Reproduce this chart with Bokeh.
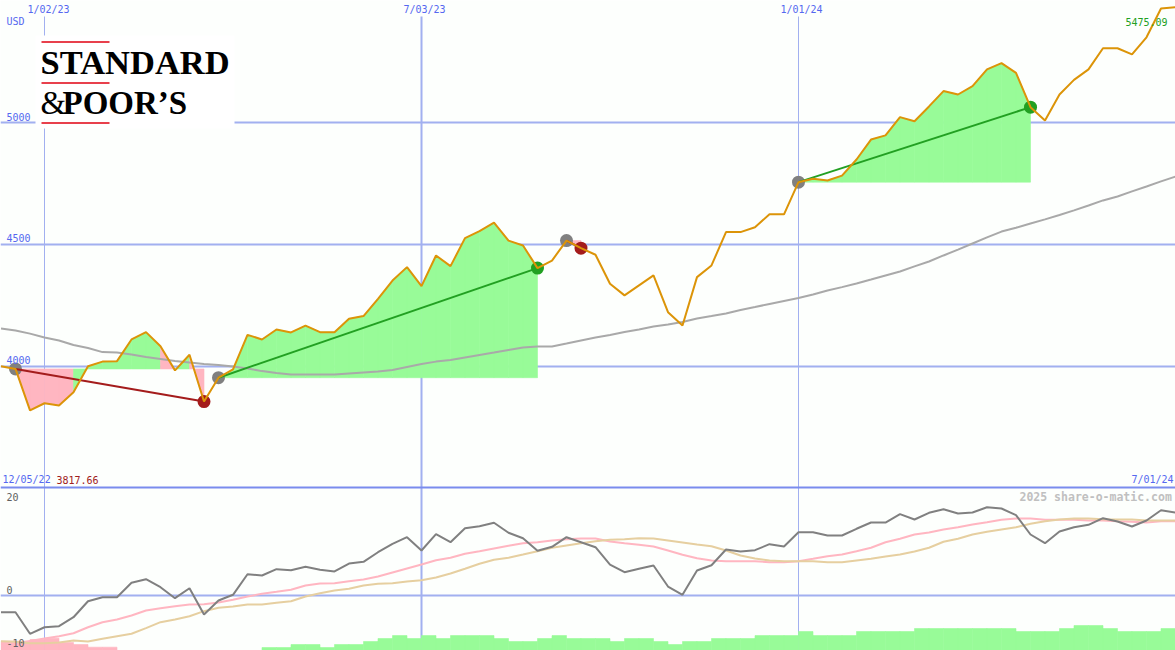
import pandas as pd
from bokeh.core.properties import value
from bokeh.embed import file_html
from bokeh.models import Range1d
from bokeh.plotting import figure
from bokeh.resources import INLINE

# Weekly closes, 12/12/22 through 7/01/24
price = [3999, 3988, 3818, 3847, 3838, 3892, 3999, 4018, 4020, 4109, 4139, 4081, 3982, 4046, 3854, 3952,
         3986, 4128, 4109, 4150, 4138, 4166, 4139, 4139, 4194, 4205, 4276, 4351, 4406, 4328, 4454, 4410,
         4525, 4554, 4589, 4515, 4495, 4402, 4433, 4515, 4484, 4457, 4338, 4290, 4331, 4372, 4221, 4166,
         4365, 4413, 4550, 4550, 4570, 4623, 4623, 4755, 4769, 4762, 4782, 4848, 4930, 4947, 5022, 5005,
         5066, 5129, 5115, 5149, 5218, 5244, 5204, 5063, 5008, 5115, 5175, 5218, 5305, 5305, 5280, 5350,
         5468, 5473]
moving_avg = [4154, 4146, 4133, 4117, 4105, 4086, 4074, 4057, 4055, 4047, 4037, 4029, 4021, 4014, 4008, 4004,
              3998, 3990, 3979, 3971, 3965, 3965, 3965, 3965, 3969, 3973, 3977, 3984, 3996, 4008, 4018, 4025,
              4035, 4045, 4055, 4066, 4076, 4080, 4080, 4092, 4105, 4117, 4127, 4140, 4150, 4162, 4170, 4181,
              4195, 4205, 4216, 4230, 4242, 4255, 4267, 4279, 4294, 4310, 4324, 4339, 4355, 4372, 4388, 4409,
              4429, 4454, 4478, 4503, 4528, 4552, 4568, 4585, 4602, 4620, 4639, 4659, 4680, 4696, 4717, 4737,
              4758, 4778]
momentum = [-3.12, -3.12, -7.16, -5.93, -5.74, -4.06, -1.07, -0.32, -0.32, 2.37, 3.05, 1.55, -0.50, 1.36, -3.55,
            -0.93, 0.13, 3.98, 3.74, 4.92, 4.73, 5.36, 4.80, 4.49, 5.98, 6.30, 8.09, 9.66, 10.90, 8.41, 11.46,
            9.96, 12.58, 12.95, 13.59, 11.72, 10.71, 8.36, 9.10, 10.90, 9.96, 9.03, 5.79, 4.36, 4.99, 5.61, 1.68,
            0.13, 4.67, 5.66, 8.60, 8.22, 8.47, 9.59, 9.16, 11.83, 11.83, 11.21, 11.21, 12.47, 13.64, 13.64,
            15.20, 14.21, 15.46, 16.13, 15.33, 15.51, 16.50, 16.26, 15.01, 11.40, 9.78, 11.96, 12.77, 13.21,
            14.45, 13.83, 12.90, 14.02, 15.94, 15.51]
signal_fast = [-9.35, -8.97, -8.50, -8.04, -7.61, -7.05, -5.93, -4.99, -4.49, -3.74, -2.80, -2.37, -2.00, -1.68,
               -1.63, -1.31, -0.80, -0.19, 0.32, 0.69, 1.07, 1.87, 2.24, 2.30, 2.67, 2.99, 3.55, 4.30, 5.05, 5.79,
               6.60, 7.05, 7.79, 8.28, 8.79, 9.29, 9.78, 9.96, 10.28, 10.52, 10.65, 10.65, 10.09, 9.78, 9.48, 9.16,
               8.41, 7.61, 6.97, 6.54, 6.41, 6.41, 6.41, 6.22, 6.22, 6.41, 6.86, 7.35, 7.66, 8.28, 8.92, 9.96,
               10.60, 11.40, 11.78, 12.34, 12.77, 13.27, 13.70, 14.15, 14.39, 14.39, 14.15, 14.15, 14.15, 14.02,
               14.02, 13.89, 13.78, 13.64, 13.89, 13.89]
signal_slow = [-8.54, -8.65, -8.92, -8.92, -8.79, -8.41, -8.60, -8.09, -7.61, -7.16, -6.11, -4.99, -4.49, -3.87,
               -2.93, -2.30, -2.06, -1.68, -1.68, -1.36, -1.07, -0.19, 0.43, 0.93, 1.25, 1.87, 2.19, 2.30, 2.62,
               2.86, 3.36, 4.11, 4.99, 5.93, 6.67, 7.05, 7.66, 8.28, 8.92, 9.35, 9.78, 10.15, 10.41, 10.52, 10.71,
               10.65, 10.28, 9.91, 9.53, 9.21, 8.41, 7.48, 6.92, 6.54, 6.41, 6.41, 6.41, 6.22, 6.22, 6.54, 6.86,
               7.29, 7.66, 8.22, 8.92, 10.04, 10.60, 11.40, 11.91, 12.34, 12.77, 13.40, 13.89, 14.21, 14.39, 14.39,
               14.26, 14.21, 14.21, 14.02, 14.02, 14.02]
# Histogram tops, one per week; None = no bar
hist_tops = [-8.54, -8.54, -8.22, -7.98, -8.79, -9.16, -9.66, -9.66, None, None, None, None, None, None, None, None,
             None, None, -9.72, -9.72, -9.16, -9.16, -9.72, -9.16, -9.16, -8.60, -8.04, -7.48, -8.04, -7.48, -8.04,
             -7.48, -7.48, -7.48, -8.04, -8.60, -8.60, -8.04, -7.48, -8.04, -8.04, -8.04, -8.60, -8.04, -8.04,
             -8.60, -9.16, -8.60, -8.60, -8.04, -8.04, -8.04, -7.48, -7.48, -7.48, -6.73, -7.48, -7.48, -7.48,
             -6.73, -6.73, -6.73, -6.73, -6.17, -6.17, -6.17, -6.17, -6.17, -6.17, -6.17, -6.73, -6.73, -6.73,
             -6.17, -5.61, -5.61, -6.17, -6.73, -6.73, -6.73, -6.17]
# Trades as (entry week index, exit week index) into the weekly arrays
trades = [(1, 14), (15, 37), (39, 40), (55, 71)]
price_ticks = [4000, 4500, 5000]
date_ticks = ["2023-01-02", "2023-07-03", "2024-01-01"]

assert len(price) == len(moving_avg) == len(momentum) == len(signal_fast) == len(signal_slow) == 82, (
    len(price), len(moving_avg), len(momentum), len(signal_fast), len(signal_slow))
assert len(hist_tops) == 81, len(hist_tops)

weeks = pd.date_range("2022-12-12", periods=len(price), freq="7D")
dates = [d.timestamp() * 1000 for d in weeks]

# Pixel frame of the picture
W, H = 1175, 650
MS_PER_PX = 7 * 86400000 / 14.5
X_ZERO = pd.Timestamp("2023-01-02").timestamp() * 1000 - 44 * MS_PER_PX


def xp(px):
    return X_ZERO + px * MS_PER_PX


def yp(py):
    return 4000 + (365.5 - py) / 0.2435


p = figure(width=W, height=H, output_backend="svg", toolbar_location=None, x_axis_type="datetime",
           x_axis_location=None, y_axis_location=None, min_border=0,
           x_range=Range1d(xp(0), xp(W)), y_range=Range1d(yp(H), yp(0)),
           background_fill_color="#fdfffd", border_fill_color="#fdfffd", outline_line_color=None)
p.styles = {"position": "absolute", "left": "0px", "top": "0px"}
p.grid.visible = False
p.extra_y_ranges["osc"] = Range1d((595 - H) / 5.35, 595 / 5.35)

GRID = "#a2b0f0"
FRAME = "#7a8cee"
for tick, width in zip(date_ticks, [1, 2, 1]):
    t = pd.Timestamp(tick).timestamp() * 1000
    p.segment([t], [yp(16)], [t], [yp(H)], line_color=GRID, line_width=width)
p.hspan(y=price_ticks, line_color=GRID, line_width=2)
p.hspan(y=[0], y_range_name="osc", line_color=GRID, line_width=2)
p.hspan(y=[(595 - 487) / 5.35], y_range_name="osc", line_color=FRAME, line_width=2)

# Logo box
p.quad(left=[xp(35)], right=[xp(234)], top=[yp(35)], bottom=[yp(128)], fill_color="#ffffff", line_color=None)
for py in (41.5, 82.5, 122.5):
    p.segment([xp(41)], [yp(py)], [xp(109)], [yp(py)], line_color="#e00010", line_width=1.5)
p.text([xp(40)], [yp(61.5)], ["STANDARD"], text_font=value("Liberation Serif"), text_font_style="bold",
       text_font_size="34.5px", text_color="#000000", text_baseline="middle")
p.text([xp(40)], [yp(102.5)], ["&"], text_font=value("Liberation Serif"), text_font_size="33px",
       text_color="#000000", text_baseline="middle")
p.text([xp(62)], [yp(102.5)], ["POOR\u2019S"], text_font=value("Liberation Serif"), text_font_style="bold",
       text_font_size="33px", text_color="#000000", text_baseline="middle")

# Trade fills: one patch per week, coloured by the week's closing side of the entry
PINK = "#ffb6c1"
GREEN = "#98fb98"
for a, b in trades:
    entry = price[a]
    for i in range(a, b):
        col = GREEN if price[i + 1] > entry else PINK
        p.patch([dates[i], dates[i], dates[i + 1], dates[i + 1]], [entry, price[i], price[i + 1], entry],
                fill_color=col, line_color=col, line_width=0.6)

# Histogram
hist_base = (595 - H) / 5.35 - 1
hx = [i for i, v in enumerate(hist_tops) if v is not None]
hist_colors = [PINK if dates[i] < pd.Timestamp("2023-03-01").timestamp() * 1000 else GREEN for i in hx]
p.quad(left=[dates[i] for i in hx], right=[dates[i + 1] for i in hx], top=[hist_tops[i] for i in hx],
       bottom=[hist_base] * len(hx), y_range_name="osc", line_color=hist_colors, line_width=0.6,
       fill_color=hist_colors)

p.line(dates, moving_avg, line_color="#a9a9a9", line_width=2)
p.line(dates, signal_fast, y_range_name="osc", line_color="#ffb6c1", line_width=2)
p.line(dates, signal_slow, y_range_name="osc", line_color="#e6cfa0", line_width=2)
p.line(dates, momentum, y_range_name="osc", line_color="#808080", line_width=2)

for a, b in trades:
    win = price[b] > price[a]
    col = "#22a022" if win else "#a41c1c"
    p.scatter([dates[a]], [price[a]], size=13, fill_color="#808080", line_color=None)
    p.scatter([dates[b]], [price[b]], size=13, fill_color=col, line_color=None)
    p.line([dates[a], dates[b]], [price[a], price[b]], line_color=col, line_width=2)

p.line(dates, price, line_color="#dc9408", line_width=2)


def label(px, baseline, s, color, size="10px", style="normal"):
    p.text([xp(px)], [yp(baseline - 4)], [s], text_color=color, text_font=value("DejaVu Sans Mono"),
           text_font_size=size, text_font_style=style, text_align="left", text_baseline="middle")


BLUE = "#5568f0"
label(27, 13, "1/02/23", BLUE)
label(403, 13, "7/03/23", BLUE)
label(780, 13, "1/01/24", BLUE)
label(6, 25, "USD", BLUE)
label(6, 120, "5000", BLUE)
label(6, 241.5, "4500", BLUE)
label(6, 363, "4000", BLUE)
label(2, 483, "12/05/22", BLUE)
label(56, 483, "3817.66", "#a02020")
label(1131, 483, "7/01/24", BLUE)
label(1125, 25, "5475.09", "#22a022")
label(6, 500, "20", "#606060")
label(6, 593, "0", "#606060")
label(6, 646, "-10", "#606060")
label(1019, 500, "2025 share-o-matic.com", "#c0c0c0", size="11.5px", style="bold")

open("out.html", "w").write(file_html(p, INLINE))
